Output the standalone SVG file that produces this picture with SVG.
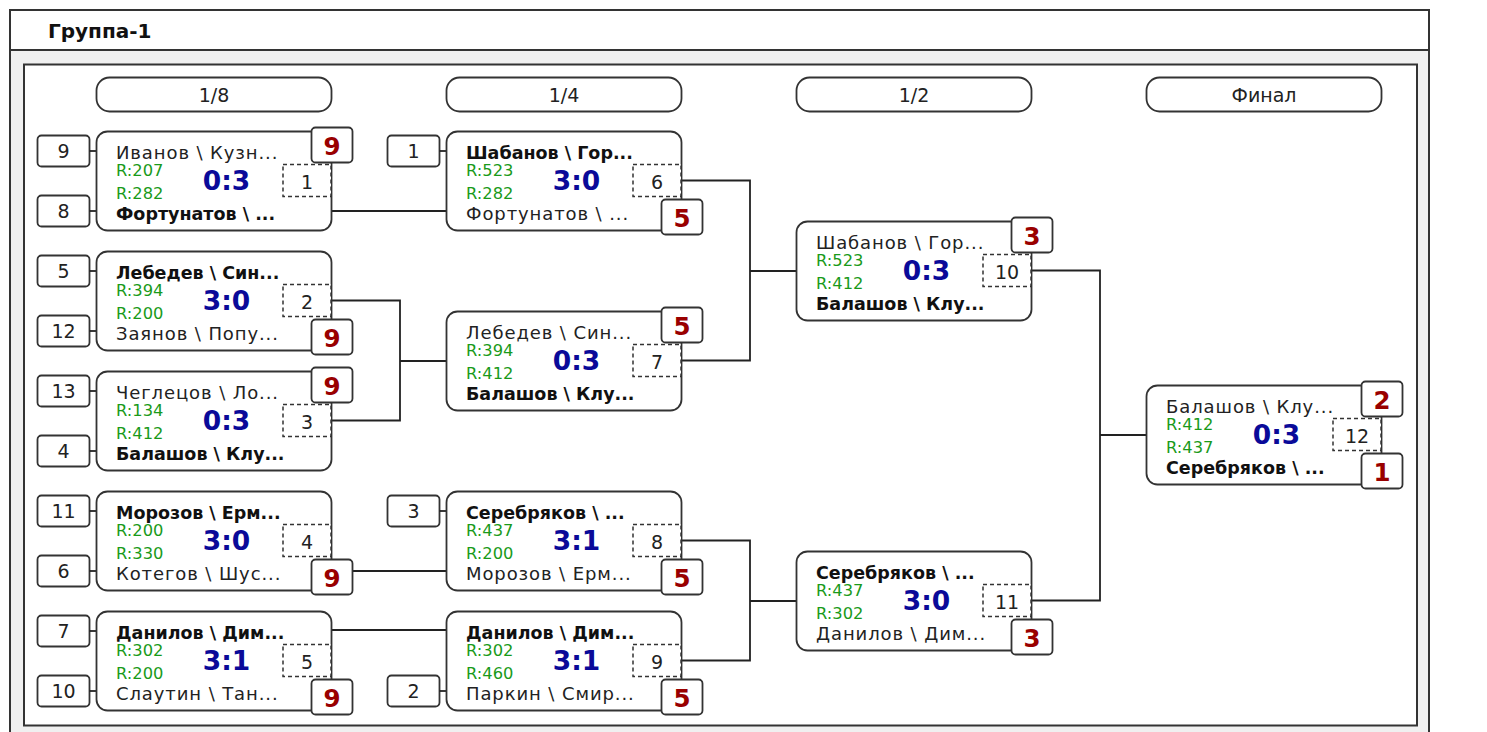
<svg xmlns="http://www.w3.org/2000/svg" width="1487" height="732" viewBox="0 0 1487 732">
<style>
.frame{fill:#fff;stroke:#333;stroke-width:2}
.box{fill:#fff;stroke:#333;stroke-width:1.8}
.pill{fill:#fff;stroke:#333;stroke-width:1.8}
.seed{fill:#fff;stroke:#333;stroke-width:1.8}
.badge{fill:#fff;stroke:#333;stroke-width:1.8}
.dash{fill:#fff;stroke:#333;stroke-width:1.5;stroke-dasharray:4 3}
.ln{fill:none;stroke:#222;stroke-width:1.8}
text{font-family:"DejaVu Sans","Liberation Sans",sans-serif;fill:#222}
.nm{font-size:18px;letter-spacing:0.9px}
.b{font-weight:bold;font-size:17.5px;letter-spacing:0;fill:#111}
.r{font-size:16.3px;fill:#1a9a1a}
.sc{font-size:26.5px;font-weight:bold;fill:#0a0a99;text-anchor:middle}
.dn{font-size:19px;text-anchor:middle}
.bt{font-size:24.5px;font-weight:bold;fill:#990000;text-anchor:middle}
.st{font-size:19px;text-anchor:middle}
.pt{font-size:19px;text-anchor:middle}
.hd{font-size:20px;font-weight:bold;fill:#111}
</style>
<rect x="0" y="0" width="1487" height="732" fill="#fff"/>
<rect class="frame" x="10" y="10" width="1419" height="760" style="fill:#f0f0f0"/>
<rect x="11" y="11" width="1417" height="39" fill="#fff"/>
<line x1="10" y1="50" x2="1429" y2="50" stroke="#333" stroke-width="2"/>
<text class="hd" x="48" y="38">Группа-1</text>
<rect class="frame" x="24" y="64.5" width="1393" height="661"/>

<g id="rounds">
<rect class="pill" x="96.5" y="77.5" width="235" height="34" rx="13"/><text class="pt" x="214" y="102">1/8</text>
<rect class="pill" x="446.5" y="77.5" width="235" height="34" rx="13"/><text class="pt" x="564" y="102">1/4</text>
<rect class="pill" x="796.5" y="77.5" width="235" height="34" rx="13"/><text class="pt" x="914" y="102">1/2</text>
<rect class="pill" x="1146.5" y="77.5" width="235" height="34" rx="13"/><text class="pt" x="1264" y="102">Финал</text>
</g>

<g id="connectors">
<path class="ln" d="M331 211H446"/>
<path class="ln" d="M331 300.5H400V420.5H331M400 361H446"/>
<path class="ln" d="M331 571H446"/>
<path class="ln" d="M331 630H446"/>
<path class="ln" d="M681 180.5H750V360.5H681M750 271H796"/>
<path class="ln" d="M681 540.5H750V660.5H681M750 601H796"/>
<path class="ln" d="M1031 270.5H1100V600.5H1031M1100 435H1146"/>
</g>

<g id="m1" transform="translate(96,131)">
<rect class="seed" x="-58.5" y="4.5" width="52" height="31" rx="4"/><text class="st" x="-32.5" y="27">9</text><path class="ln" d="M-6.5 20H0"/>
<rect class="seed" x="-58.5" y="64.5" width="52" height="31" rx="4"/><text class="st" x="-32.5" y="87">8</text><path class="ln" d="M-6.5 80H0"/>
<rect class="box" x="0.5" y="0.5" width="235" height="99" rx="11"/>
<text class="nm" x="20" y="28">Иванов \ Кузн...</text>
<text class="r" x="20" y="45">R:207</text><text class="r" x="20" y="68">R:282</text>
<text class="nm b" x="20" y="89">Фортунатов \ ...</text>
<text class="sc" x="130.5" y="59">0:3</text>
<rect class="dash" x="187" y="33.5" width="48" height="32"/><text class="dn" x="211" y="58">1</text>
<rect class="badge" x="215.5" y="-3.5" width="41" height="35" rx="4"/><text class="bt" x="236" y="24">9</text>
</g>

<g id="m2" transform="translate(96,251)">
<rect class="seed" x="-58.5" y="4.5" width="52" height="31" rx="4"/><text class="st" x="-32.5" y="27">5</text><path class="ln" d="M-6.5 20H0"/>
<rect class="seed" x="-58.5" y="64.5" width="52" height="31" rx="4"/><text class="st" x="-32.5" y="87">12</text><path class="ln" d="M-6.5 80H0"/>
<rect class="box" x="0.5" y="0.5" width="235" height="99" rx="11"/>
<text class="nm b" x="20" y="28">Лебедев \ Син...</text>
<text class="r" x="20" y="45">R:394</text><text class="r" x="20" y="68">R:200</text>
<text class="nm" x="20" y="89">Заянов \ Попу...</text>
<text class="sc" x="130.5" y="59">3:0</text>
<rect class="dash" x="187" y="33.5" width="48" height="32"/><text class="dn" x="211" y="58">2</text>
<rect class="badge" x="215.5" y="68.5" width="41" height="35" rx="4"/><text class="bt" x="236" y="96">9</text>
</g>

<g id="m3" transform="translate(96,371)">
<rect class="seed" x="-58.5" y="4.5" width="52" height="31" rx="4"/><text class="st" x="-32.5" y="27">13</text><path class="ln" d="M-6.5 20H0"/>
<rect class="seed" x="-58.5" y="64.5" width="52" height="31" rx="4"/><text class="st" x="-32.5" y="87">4</text><path class="ln" d="M-6.5 80H0"/>
<rect class="box" x="0.5" y="0.5" width="235" height="99" rx="11"/>
<text class="nm" x="20" y="28">Чеглецов \ Ло...</text>
<text class="r" x="20" y="45">R:134</text><text class="r" x="20" y="68">R:412</text>
<text class="nm b" x="20" y="89">Балашов \ Клу...</text>
<text class="sc" x="130.5" y="59">0:3</text>
<rect class="dash" x="187" y="33.5" width="48" height="32"/><text class="dn" x="211" y="58">3</text>
<rect class="badge" x="215.5" y="-3.5" width="41" height="35" rx="4"/><text class="bt" x="236" y="24">9</text>
</g>

<g id="m4" transform="translate(96,491)">
<rect class="seed" x="-58.5" y="4.5" width="52" height="31" rx="4"/><text class="st" x="-32.5" y="27">11</text><path class="ln" d="M-6.5 20H0"/>
<rect class="seed" x="-58.5" y="64.5" width="52" height="31" rx="4"/><text class="st" x="-32.5" y="87">6</text><path class="ln" d="M-6.5 80H0"/>
<rect class="box" x="0.5" y="0.5" width="235" height="99" rx="11"/>
<text class="nm b" x="20" y="28">Морозов \ Ерм...</text>
<text class="r" x="20" y="45">R:200</text><text class="r" x="20" y="68">R:330</text>
<text class="nm" x="20" y="89">Котегов \ Шус...</text>
<text class="sc" x="130.5" y="59">3:0</text>
<rect class="dash" x="187" y="33.5" width="48" height="32"/><text class="dn" x="211" y="58">4</text>
<rect class="badge" x="215.5" y="68.5" width="41" height="35" rx="4"/><text class="bt" x="236" y="96">9</text>
</g>

<g id="m5" transform="translate(96,611)">
<rect class="seed" x="-58.5" y="4.5" width="52" height="31" rx="4"/><text class="st" x="-32.5" y="27">7</text><path class="ln" d="M-6.5 20H0"/>
<rect class="seed" x="-58.5" y="64.5" width="52" height="31" rx="4"/><text class="st" x="-32.5" y="87">10</text><path class="ln" d="M-6.5 80H0"/>
<rect class="box" x="0.5" y="0.5" width="235" height="99" rx="11"/>
<text class="nm b" x="20" y="28">Данилов \ Дим...</text>
<text class="r" x="20" y="45">R:302</text><text class="r" x="20" y="68">R:200</text>
<text class="nm" x="20" y="89">Слаутин \ Тан...</text>
<text class="sc" x="130.5" y="59">3:1</text>
<rect class="dash" x="187" y="33.5" width="48" height="32"/><text class="dn" x="211" y="58">5</text>
<rect class="badge" x="215.5" y="68.5" width="41" height="35" rx="4"/><text class="bt" x="236" y="96">9</text>
</g>

<g id="m6" transform="translate(446,131)">
<rect class="seed" x="-58.5" y="4.5" width="52" height="31" rx="4"/><text class="st" x="-32.5" y="27">1</text><path class="ln" d="M-6.5 20H0"/>
<rect class="box" x="0.5" y="0.5" width="235" height="99" rx="11"/>
<text class="nm b" x="20" y="28">Шабанов \ Гор...</text>
<text class="r" x="20" y="45">R:523</text><text class="r" x="20" y="68">R:282</text>
<text class="nm" x="20" y="89">Фортунатов \ ...</text>
<text class="sc" x="130.5" y="59">3:0</text>
<rect class="dash" x="187" y="33.5" width="48" height="32"/><text class="dn" x="211" y="58">6</text>
<rect class="badge" x="215.5" y="68.5" width="41" height="35" rx="4"/><text class="bt" x="236" y="96">5</text>
</g>

<g id="m7" transform="translate(446,311)">
<rect class="box" x="0.5" y="0.5" width="235" height="99" rx="11"/>
<text class="nm" x="20" y="28">Лебедев \ Син...</text>
<text class="r" x="20" y="45">R:394</text><text class="r" x="20" y="68">R:412</text>
<text class="nm b" x="20" y="89">Балашов \ Клу...</text>
<text class="sc" x="130.5" y="59">0:3</text>
<rect class="dash" x="187" y="33.5" width="48" height="32"/><text class="dn" x="211" y="58">7</text>
<rect class="badge" x="215.5" y="-3.5" width="41" height="35" rx="4"/><text class="bt" x="236" y="24">5</text>
</g>

<g id="m8" transform="translate(446,491)">
<rect class="seed" x="-58.5" y="4.5" width="52" height="31" rx="4"/><text class="st" x="-32.5" y="27">3</text><path class="ln" d="M-6.5 20H0"/>
<rect class="box" x="0.5" y="0.5" width="235" height="99" rx="11"/>
<text class="nm b" x="20" y="28">Серебряков \ ...</text>
<text class="r" x="20" y="45">R:437</text><text class="r" x="20" y="68">R:200</text>
<text class="nm" x="20" y="89">Морозов \ Ерм...</text>
<text class="sc" x="130.5" y="59">3:1</text>
<rect class="dash" x="187" y="33.5" width="48" height="32"/><text class="dn" x="211" y="58">8</text>
<rect class="badge" x="215.5" y="68.5" width="41" height="35" rx="4"/><text class="bt" x="236" y="96">5</text>
</g>

<g id="m9" transform="translate(446,611)">
<rect class="seed" x="-58.5" y="64.5" width="52" height="31" rx="4"/><text class="st" x="-32.5" y="87">2</text><path class="ln" d="M-6.5 80H0"/>
<rect class="box" x="0.5" y="0.5" width="235" height="99" rx="11"/>
<text class="nm b" x="20" y="28">Данилов \ Дим...</text>
<text class="r" x="20" y="45">R:302</text><text class="r" x="20" y="68">R:460</text>
<text class="nm" x="20" y="89">Паркин \ Смир...</text>
<text class="sc" x="130.5" y="59">3:1</text>
<rect class="dash" x="187" y="33.5" width="48" height="32"/><text class="dn" x="211" y="58">9</text>
<rect class="badge" x="215.5" y="68.5" width="41" height="35" rx="4"/><text class="bt" x="236" y="96">5</text>
</g>

<g id="m10" transform="translate(796,221)">
<rect class="box" x="0.5" y="0.5" width="235" height="99" rx="11"/>
<text class="nm" x="20" y="28">Шабанов \ Гор...</text>
<text class="r" x="20" y="45">R:523</text><text class="r" x="20" y="68">R:412</text>
<text class="nm b" x="20" y="89">Балашов \ Клу...</text>
<text class="sc" x="130.5" y="59">0:3</text>
<rect class="dash" x="187" y="33.5" width="48" height="32"/><text class="dn" x="211" y="58">10</text>
<rect class="badge" x="215.5" y="-3.5" width="41" height="35" rx="4"/><text class="bt" x="236" y="24">3</text>
</g>

<g id="m11" transform="translate(796,551)">
<rect class="box" x="0.5" y="0.5" width="235" height="99" rx="11"/>
<text class="nm b" x="20" y="28">Серебряков \ ...</text>
<text class="r" x="20" y="45">R:437</text><text class="r" x="20" y="68">R:302</text>
<text class="nm" x="20" y="89">Данилов \ Дим...</text>
<text class="sc" x="130.5" y="59">3:0</text>
<rect class="dash" x="187" y="33.5" width="48" height="32"/><text class="dn" x="211" y="58">11</text>
<rect class="badge" x="215.5" y="68.5" width="41" height="35" rx="4"/><text class="bt" x="236" y="96">3</text>
</g>

<g id="m12" transform="translate(1146,385)">
<rect class="box" x="0.5" y="0.5" width="235" height="99" rx="11"/>
<text class="nm" x="20" y="28">Балашов \ Клу...</text>
<text class="r" x="20" y="45">R:412</text><text class="r" x="20" y="68">R:437</text>
<text class="nm b" x="20" y="89">Серебряков \ ...</text>
<text class="sc" x="130.5" y="59">0:3</text>
<rect class="dash" x="187" y="33.5" width="48" height="32"/><text class="dn" x="211" y="58">12</text>
<rect class="badge" x="215.5" y="-3.5" width="41" height="35" rx="4"/><text class="bt" x="236" y="24">2</text>
<rect class="badge" x="215.5" y="68.5" width="41" height="35" rx="4"/><text class="bt" x="236" y="96">1</text>
</g>
</svg>
